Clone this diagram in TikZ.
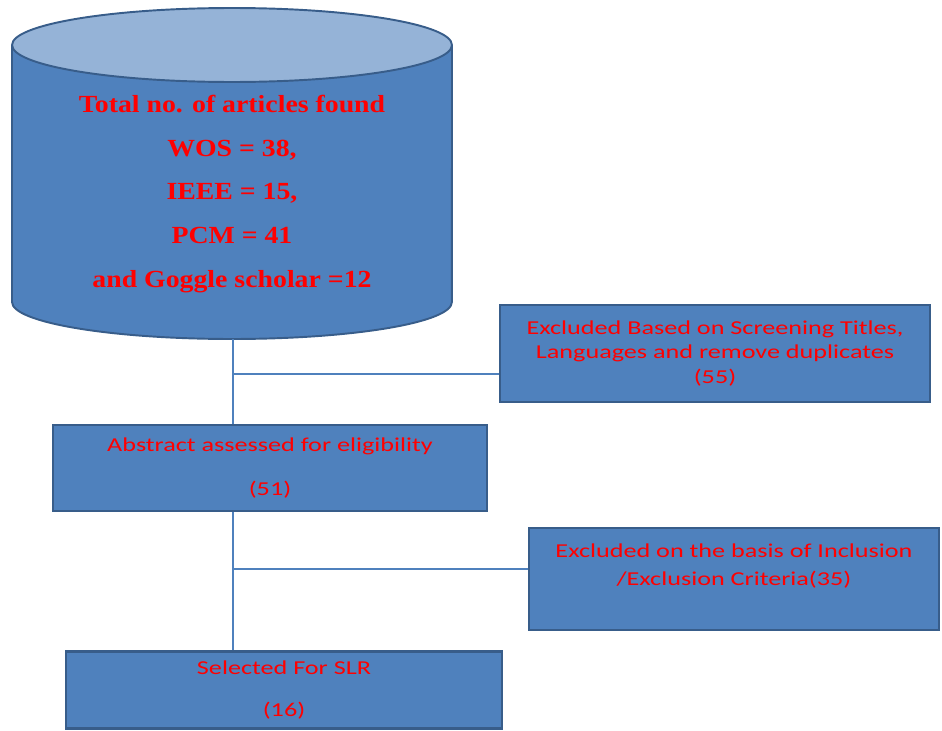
\documentclass[tikz,border=0pt]{standalone}
\usepackage{fontspec}
\setmainfont{Carlito}[FakeStretch=1.33]
\newfontfamily\cylfont{Liberation Serif}[FakeStretch=1.13]
\usepackage{xcolor}
\usetikzlibrary{positioning}
\definecolor{boxblue}{HTML}{4F81BD}
\definecolor{boxedge}{HTML}{385D8A}
\definecolor{toplight}{HTML}{95B3D7}
\tikzstyle{stage} = [draw=boxedge, fill=boxblue, line width=1.2pt, rectangle, align=center, text=red, font=\fontsize{11.2}{14.2}\selectfont]
\tikzstyle{dbtext} = [align=center, text=red, font=\cylfont\bfseries\fontsize{14}{24.8}\selectfont]
\tikzstyle{link} = [draw=boxblue, line width=0.7pt]

\begin{document}
\begin{tikzpicture}[x=0.02cm, y=-0.02cm]
    \useasboundingbox (0,0) rectangle (942,730);
    % database cylinder
    \draw [draw=boxedge, fill=boxblue, line width=1.1pt] (12,45) -- (12,302) arc [start angle=180, end angle=360, x radius=4.4cm, y radius=0.74cm] -- (452,45);
    \draw [draw=boxedge, fill=toplight, line width=1.1pt] (232,45) ellipse [x radius=4.4cm, y radius=0.74cm];
    \node (total) [dbtext] at (232,194) {Total no. of articles found\\ WOS = 38,\\ IEEE = 15,\\ PCM = 41\\ and Goggle scholar =12};
    \coordinate (dbbot) at (233,339);
    % stages
    \node (screen) [stage, minimum width=8.6cm, minimum height=1.94cm] at (715,353.5) {Excluded Based on Screening Titles,\\ Languages and remove duplicates\\ (55)};
    \node (abstract) [stage, minimum width=8.68cm, minimum height=1.72cm] at (270,468) {Abstract assessed for eligibility\\[0.38cm] (51)};
    \node (criteria) [stage, minimum width=8.2cm, minimum height=2.04cm] at (734,579) {Excluded on the basis of Inclusion\\[0.06cm] /Exclusion Criteria(35)\\[0.06cm] \mbox{}};
    \node (selected) [stage, minimum width=8.72cm, minimum height=1.54cm] at (284,690) {Selected For SLR\\[0.34cm] (16)};
    \coordinate (split1) at (233,374);
    \coordinate (split2) at (233,569);
    \draw [link] (dbbot) -- (dbbot |- abstract.north);
    \draw [link] (split1) -- (split1 -| screen.west);
    \draw [link] (dbbot |- abstract.south) -- (dbbot |- selected.north);
    \draw [link] (split2) -- (split2 -| criteria.west);
\end{tikzpicture}
\end{document}
